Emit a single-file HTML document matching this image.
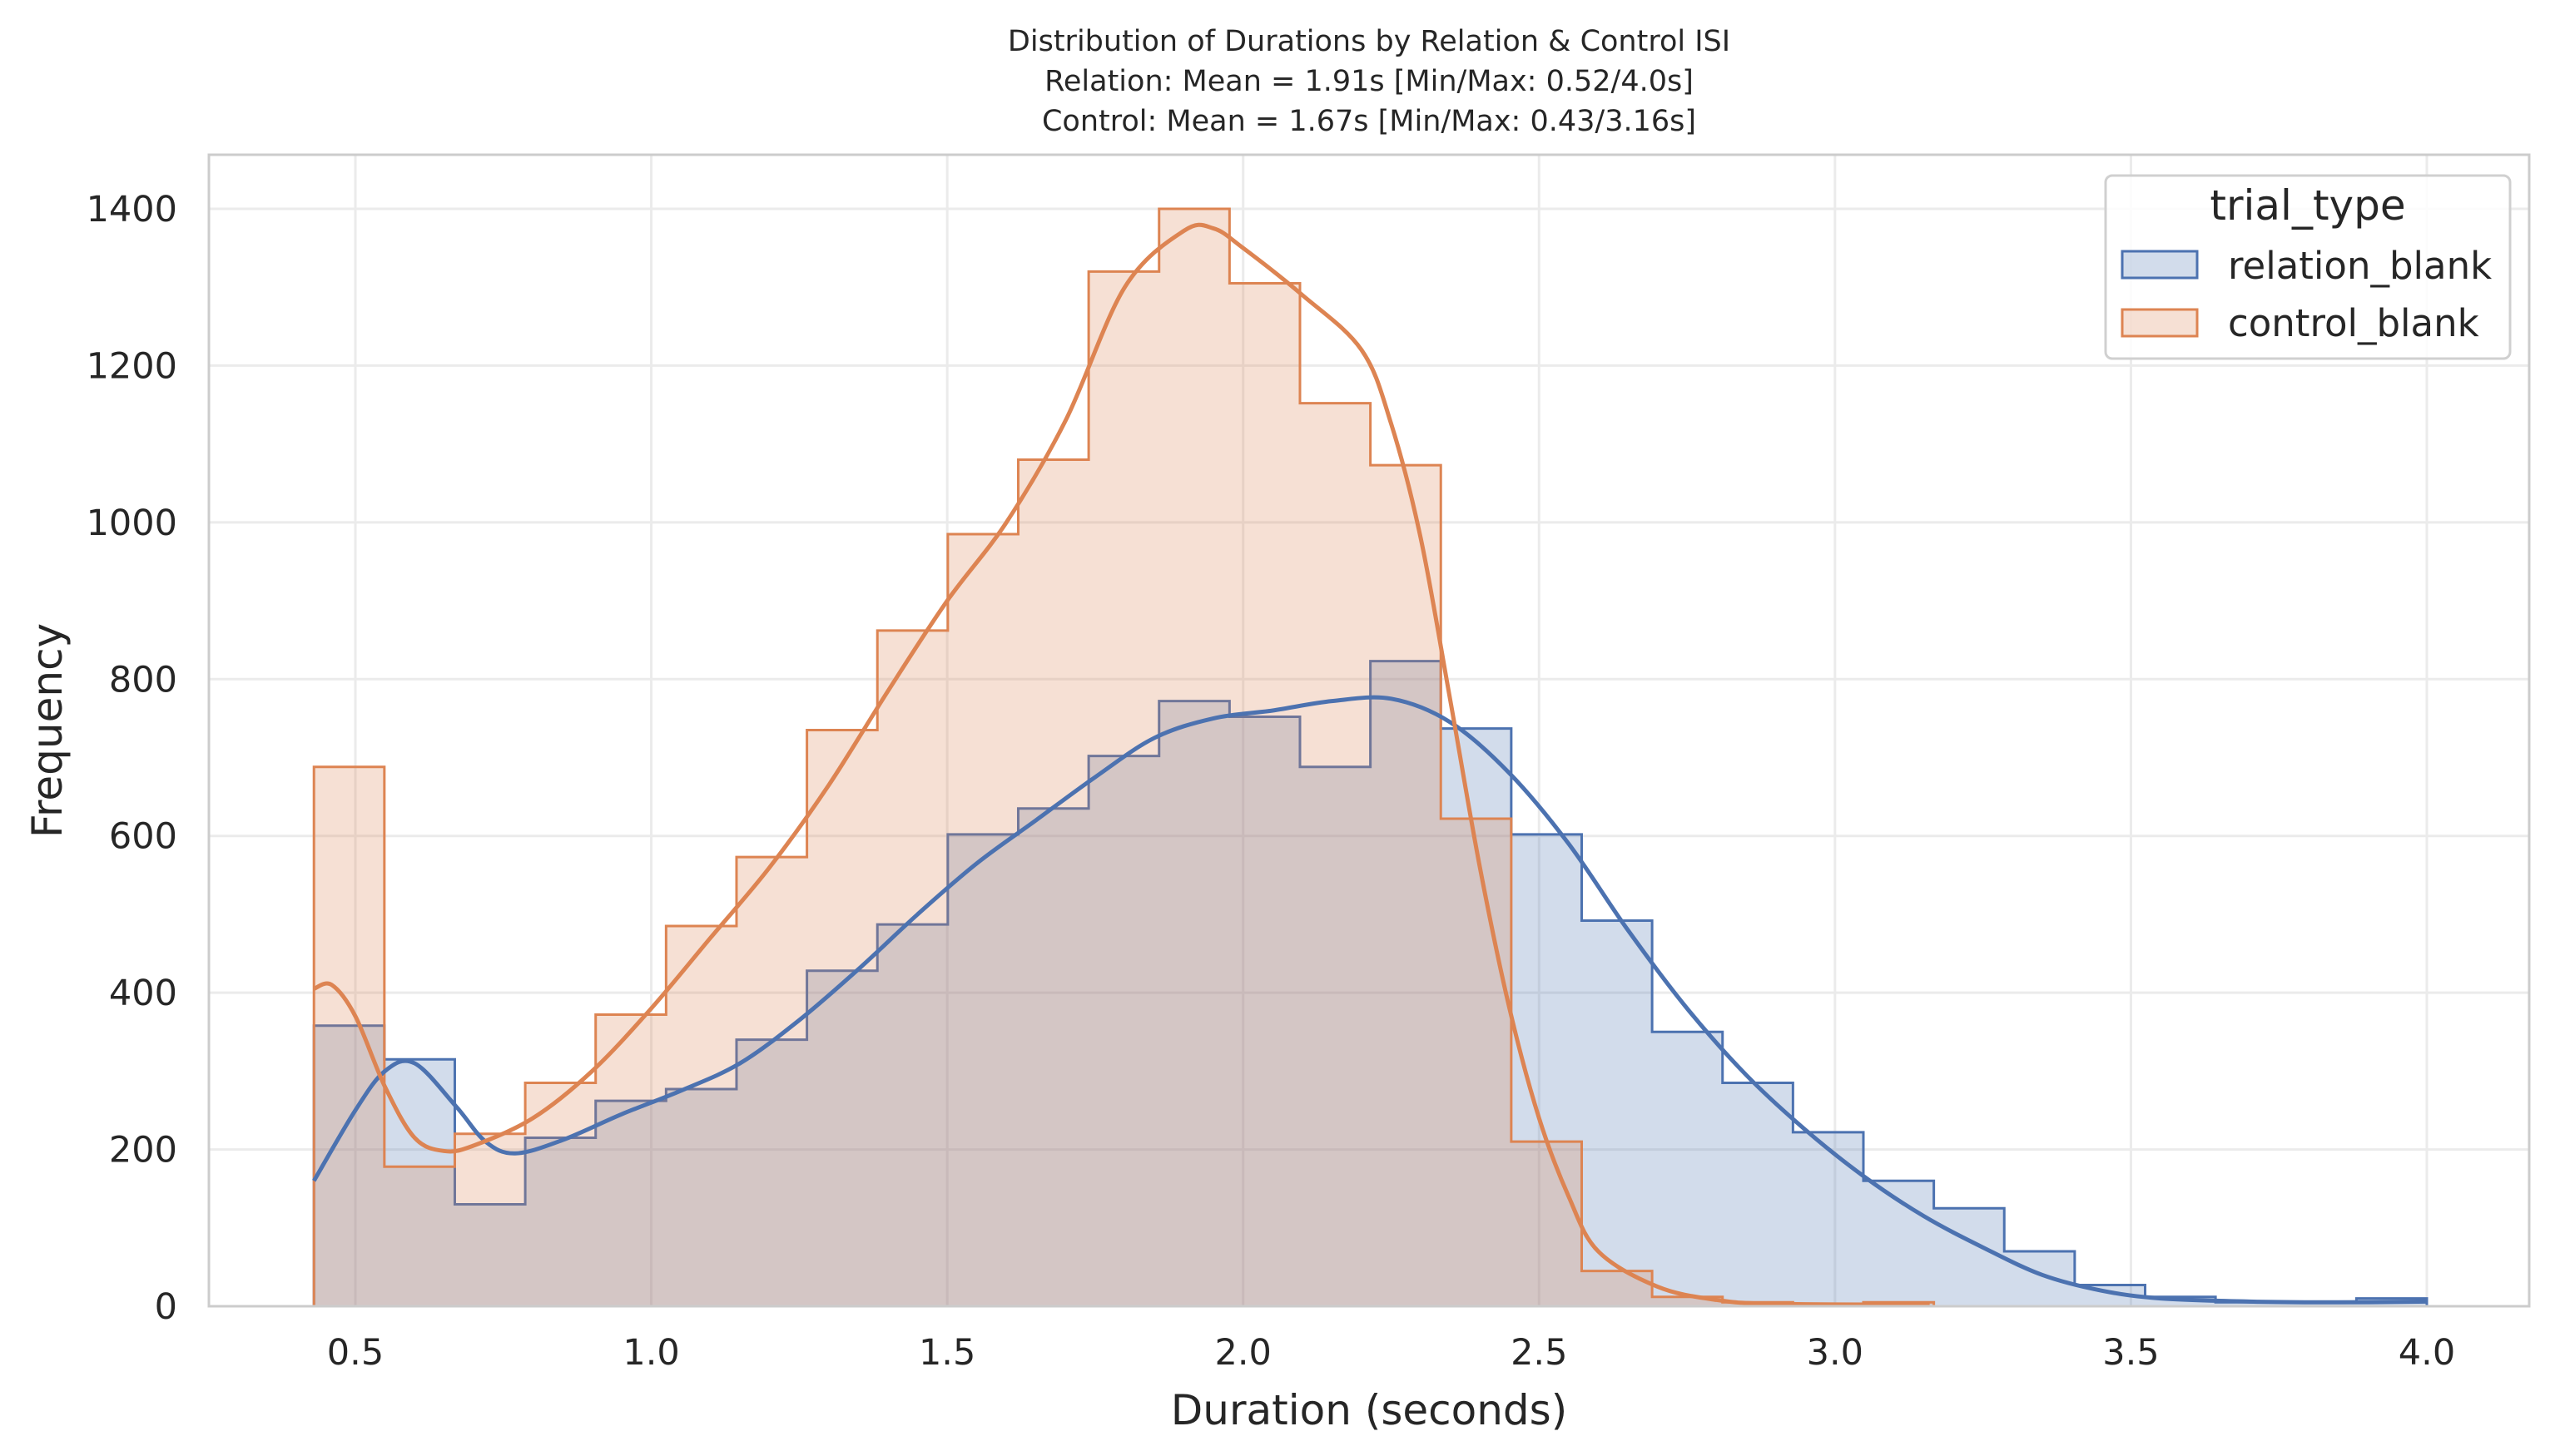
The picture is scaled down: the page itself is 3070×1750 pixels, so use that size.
<!DOCTYPE html>
<html><head><meta charset="utf-8"><style>
html,body{margin:0;padding:0;background:#fff;}
svg{display:block;font-family:"DejaVu Sans","Liberation Sans",sans-serif;}
</style></head><body>
<svg id="chart" width="3070" height="1750" viewBox="0 0 3070 1750" xmlns="http://www.w3.org/2000/svg">
<g fill="#262626" font-size="35" text-anchor="middle">
<text x="1645" y="61">Distribution of Durations by Relation &amp; Control ISI</text>
<text x="1645" y="109">Relation: Mean = 1.91s [Min/Max: 0.52/4.0s]</text>
<text x="1645" y="157">Control: Mean = 1.67s [Min/Max: 0.43/3.16s]</text>
</g>
<g id="grid"></g>
<g id="marks"></g>
<rect x="251" y="186" width="2788" height="1384" fill="none" stroke="#cccccc" stroke-width="3"/>
<g id="ticks" fill="#262626" font-size="43"></g>
<text x="1645" y="1712" text-anchor="middle" font-size="50" fill="#262626">Duration (seconds)</text>
<text transform="translate(74,878) rotate(-90)" text-anchor="middle" font-size="50" fill="#262626">Frequency</text>
<g>
<rect x="2530" y="211" width="486" height="220" rx="8" fill="#fff" fill-opacity="0.85" stroke="#d0d0d0" stroke-width="3"/>
<text x="2773" y="264" text-anchor="middle" font-size="50" fill="#262626">trial_type</text>
<g>
<rect x="2550" y="302" width="90" height="32" fill="#4c72b0" fill-opacity="0.25" stroke="#4c72b0" stroke-width="3"/>
<text x="2677" y="335" font-size="45" fill="#262626">relation_blank</text>
</g>
<g>
<rect x="2550" y="372" width="90" height="32" fill="#dd8452" fill-opacity="0.25" stroke="#dd8452" stroke-width="3"/>
<text x="2677" y="404" font-size="45" fill="#262626">control_blank</text>
</g>
</g>
</svg>
<script>
const binStart = 0.43;
const binEnd = 4.0;
const relationCounts = [358,315,130,215,262,277,340,428,487,602,635,702,772,752,688,823,737,602,492,350,285,222,160,125,70,27,12,5,5,10];
const controlCounts = [688,178,220,285,372,485,573,735,862,985,1080,1320,1400,1305,1152,1073,622,210,45,12,5,3,5];
const relationKdeX = [0.43,0.5,0.55,0.6,0.67,0.72,0.77,0.85,0.95,1.05,1.15,1.25,1.35,1.45,1.55,1.65,1.75,1.85,1.95,2.05,2.15,2.25,2.35,2.45,2.55,2.65,2.75,2.85,2.95,3.05,3.15,3.25,3.35,3.45,3.55,3.7,3.85,4.0];
const relationKdeY = [160,250,300,310,255,210,195,212,245,275,310,365,430,500,565,620,675,725,750,760,772,775,745,680,590,480,380,295,225,165,115,75,40,20,10,6,5,6];
const controlKdeX = [0.43,0.46,0.5,0.55,0.6,0.65,0.7,0.8,0.9,1.0,1.1,1.2,1.3,1.4,1.5,1.6,1.7,1.8,1.9,1.95,2.0,2.1,2.2,2.25,2.3,2.35,2.4,2.45,2.5,2.55,2.6,2.7,2.8,2.9,3.16];
const controlKdeY = [405,410,370,280,215,198,205,240,300,380,470,560,665,785,900,1000,1130,1300,1372,1375,1350,1290,1220,1126,980,773,560,380,240,140,70,25,8,3,2];
const xTicks = [0.5,1.0,1.5,2.0,2.5,3.0,3.5,4.0];
const xTickLabels = ["0.5","1.0","1.5","2.0","2.5","3.0","3.5","4.0"];
const yTicks = [0,200,400,600,800,1000,1200,1400];
const yTickLabels = ["0","200","400","600","800","1000","1200","1400"];

const NS = "http://www.w3.org/2000/svg";
const X0 = 427, X1 = 2916, V0 = 0.5, V1 = 4.0;
const Y0 = 1570, YTOP = 251, C1 = 1400;
function sx(v){ return X0 + (v - V0) * (X1 - X0) / (V1 - V0); }
function sy(c){ return Y0 - c * (Y0 - YTOP) / C1; }
function mk(tag, attrs, parent){ const e = document.createElementNS(NS, tag); for (const k in attrs) e.setAttribute(k, attrs[k]); parent.appendChild(e); return e; }

const grid = document.getElementById('grid');
const ticks = document.getElementById('ticks');
const marks = document.getElementById('marks');
xTicks.forEach((t, i) => {
  const l = mk('line', {x1: sx(t), x2: sx(t), y1: 186, y2: 1570, stroke: '#ebebeb', 'stroke-width': 3}, grid);
  
  
  const tx = mk('text', {x: sx(t), y: 1640, 'text-anchor': 'middle'}, ticks);
  tx.textContent = xTickLabels[i];
  
  
});
yTicks.forEach((t, i) => {
  const l = mk('line', {x1: 251, x2: 3039, y1: sy(t), y2: sy(t), stroke: '#ebebeb', 'stroke-width': 3}, grid);
  
  
  const tx = mk('text', {x: 213, y: sy(t) + 15, 'text-anchor': 'end'}, ticks);
  tx.textContent = yTickLabels[i];
  
  
});

const binW = (binEnd - binStart) / relationCounts.length;
function stepPath(counts){
  const n = counts.length;
  let d = 'M' + sx(binStart) + ',' + sy(0);
  for (let i = 0; i < n; i++){
    d += ' L' + sx(binStart + i*binW) + ',' + sy(counts[i]) + ' L' + sx(binStart + (i+1)*binW) + ',' + sy(counts[i]);
  }
  d += ' L' + sx(binStart + n*binW) + ',' + sy(0);
  return d;
}
function smoothPath(xs, ys){
  const p = xs.map((x, i) => [sx(x), sy(ys[i])]);
  let d = 'M' + p[0][0] + ',' + p[0][1];
  for (let i = 0; i < p.length - 1; i++){
    const a = p[Math.max(0, i-1)], b = p[i], c = p[i+1], e = p[Math.min(p.length-1, i+2)];
    const c1x = b[0] + (c[0]-a[0])/6, c1y = b[1] + (c[1]-a[1])/6;
    const c2x = c[0] - (e[0]-b[0])/6, c2y = c[1] - (e[1]-b[1])/6;
    d += ' C' + c1x + ',' + c1y + ' ' + c2x + ',' + c2y + ' ' + c[0] + ',' + c[1];
  }
  return d;
}
function addHist(counts, color, name){
  const f = mk('path', {d: stepPath(counts) + ' Z', fill: color, 'fill-opacity': 0.25, stroke: 'none'}, marks);
  
  
  const s = mk('path', {d: stepPath(counts), fill: 'none', stroke: color, 'stroke-width': 3}, marks);
  
  
}
addHist(relationCounts, '#4c72b0', 'relation-histogram');
addHist(controlCounts, '#dd8452', 'control-histogram');
const k1 = mk('path', {d: smoothPath(relationKdeX, relationKdeY), fill: 'none', stroke: '#4c72b0', 'stroke-width': 5, 'stroke-linejoin': 'round'}, marks);


const k2 = mk('path', {d: smoothPath(controlKdeX, controlKdeY), fill: 'none', stroke: '#dd8452', 'stroke-width': 5, 'stroke-linejoin': 'round'}, marks);


</script>
</body></html>
